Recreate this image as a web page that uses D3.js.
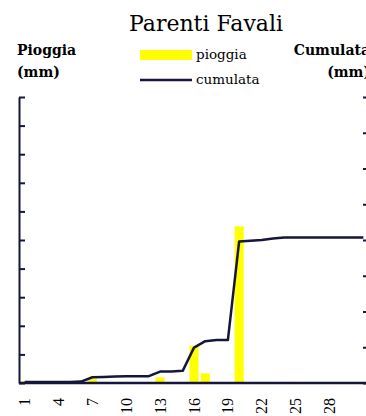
<!DOCTYPE html>
<html>
<head>
<meta charset="utf-8">
<script src="https://cdn.jsdelivr.net/npm/d3@7"></script>
<style>
  body { margin: 0; background: #fff; }
  svg { display: block; font-family: 'DejaVu Serif', serif; }
</style>
</head>
<body>
<svg id="canvas" width="366" height="416"></svg>
<script>
let days = d3.range(1, 32)
let pioggia = [0.3, 0, 0, 0, 0, 0, 0.8, 0, 0, 0, 0, 0, 1.0, 0, 0, 6.5, 1.7, 0, 0, 27.4,
               0, 0, 0, 0.2, 0, 0, 0, 0, 0, 0, 0]
let cumulata = [0.3, 0.3, 0.3, 0.3, 0.3, 0.4, 1.6, 1.7, 1.8, 1.9, 1.9, 1.9, 3.2, 3.2, 3.4, 9.9,
                11.7, 12.0, 12.0, 39.6, 39.8, 40.0, 40.4, 40.7, 40.7, 40.7, 40.7, 40.7, 40.7, 40.7, 40.7]
let dayLabels = [1, 4, 7, 10, 13, 16, 19, 22, 25, 28]
let maxPioggia = 50
let maxCumulata = 80

let navy = '#16163c'
let canvas = d3.select('#canvas')

let x = d3.scaleBand().domain(days).range([19, 369]).paddingInner(0.2).paddingOuter(0.1)
let yL = d3.scaleLinear().domain([0, maxPioggia]).range([383, 97])
let yR = d3.scaleLinear().domain([0, maxCumulata]).range([383, 97])

// title
canvas.append('text')
  .attr('x', 206).attr('y', 31)
  .attr('text-anchor', 'middle')
  .attr('font-size', 22)
  .text('Parenti Favali')

// axis titles
canvas.append('text').attr('x', 17).attr('y', 55)
  .attr('font-size', 14).attr('font-weight', 'bold').text('Pioggia')
canvas.append('text').attr('x', 17).attr('y', 77)
  .attr('font-size', 14).attr('font-weight', 'bold').text('(mm)')
canvas.append('text').attr('x', 370).attr('y', 55).attr('text-anchor', 'end')
  .attr('font-size', 14).attr('font-weight', 'bold').text('Cumulata')
canvas.append('text').attr('x', 370).attr('y', 77).attr('text-anchor', 'end')
  .attr('font-size', 14).attr('font-weight', 'bold').text('(mm)')

// legend
canvas.append('rect').attr('x', 140).attr('y', 50).attr('width', 52).attr('height', 10)
  .attr('fill', '#ffff00')
canvas.append('text').attr('x', 196).attr('y', 59).attr('font-size', 13.5).text('pioggia')
canvas.append('line').attr('x1', 140).attr('x2', 192).attr('y1', 80).attr('y2', 80)
  .attr('stroke', navy).attr('stroke-width', 2.5)
canvas.append('text').attr('x', 196).attr('y', 84).attr('font-size', 13.5).text('cumulata')

// bars
canvas.selectAll('.bar')
  .data(days)
  .enter()
  .append('rect')
  .attr('class', 'bar')
  .attr('x', (d) => x(d))
  .attr('width', x.bandwidth())
  .attr('y', (d, i) => yL(pioggia[i]))
  .attr('height', (d, i) => yL(0) - yL(pioggia[i]))
  .attr('fill', '#ffff00')

// cumulative line
let line = d3.line()
  .x((d) => x(d) + x.bandwidth() / 2)
  .y((d, i) => yR(cumulata[i]))

canvas.append('path')
  .datum(days)
  .attr('d', line)
  .attr('fill', 'none')
  .attr('stroke', navy)
  .attr('stroke-width', 2.5)
  .attr('stroke-linejoin', 'round')

// axes
let leftAxis = d3.axisLeft(yL).ticks(10).tickSizeInner(-6).tickSizeOuter(0).tickFormat(() => '')
let gL = canvas.append('g').attr('transform', 'translate(19,0)').call(leftAxis)
gL.select('.domain').attr('stroke', navy).attr('stroke-width', 2)
gL.selectAll('.tick line').attr('stroke', navy).attr('stroke-width', 2)

let rightAxis = d3.axisRight(yR).ticks(8).tickSizeInner(-6).tickSizeOuter(0).tickFormat(() => '')
let gR = canvas.append('g').attr('transform', 'translate(369,0)').call(rightAxis)
gR.select('.domain').attr('stroke', navy).attr('stroke-width', 2)
gR.selectAll('.tick line').attr('stroke', navy).attr('stroke-width', 2)

let bottomAxis = d3.axisBottom(x).tickValues(dayLabels).tickSize(0).tickPadding(0)
let gB = canvas.append('g').attr('transform', 'translate(0,383)').call(bottomAxis)
gB.select('.domain').attr('stroke', navy).attr('stroke-width', 2.5)
  .attr('d', 'M19,0H369')
gB.selectAll('text')
  .attr('font-family', "'Liberation Serif', serif")
  .attr('font-size', 16)
  .attr('fill', '#000')
  .attr('text-anchor', 'end')
  .attr('transform', 'rotate(-90)')
  .attr('x', -15)
  .attr('y', 0)
  .attr('dy', '0.35em')
</script>
</body>
</html>
